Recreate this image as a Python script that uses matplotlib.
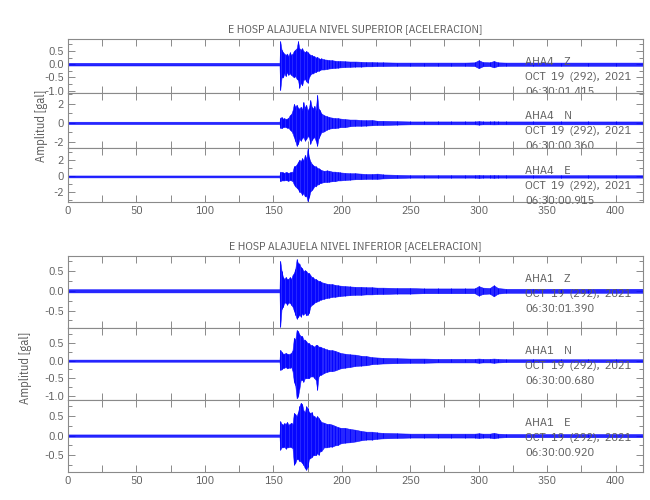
import numpy as np
import matplotlib
matplotlib.use("Agg")
import matplotlib.pyplot as plt
from matplotlib.ticker import MultipleLocator, FormatStrFormatter

plt.rcParams['font.family'] = ['IBM Plex Sans Condensed', 'DejaVu Sans']
plt.rcParams['axes.unicode_minus'] = False

# ---------------- data ----------------
TIME = [0, 154.5, 155, 156, 157, 158, 159, 160, 161, 162, 163, 164, 165, 166, 167, 168, 169,
        170, 171, 172, 173, 174, 175, 176, 177, 178, 179, 180, 181, 182, 183, 184, 185,
        187, 189, 191, 193, 195, 197, 199, 202, 206, 210, 214, 218, 222, 226, 230,
        240, 250, 260, 270, 280, 290, 297, 300, 303, 308, 311, 314, 320, 340, 360, 380, 400, 420]

# Upper group (AHA4, nivel superior)
sup_z_up = [0.05, 0.05, 0.87, 0.55, 0.45, 0.40, 0.35, 0.40, 0.30, 0.45, 0.35, 0.40, 0.50, 0.55, 0.60, 0.87, 0.60,
            0.55, 0.60, 0.50, 0.45, 0.50, 0.45, 0.40, 0.35, 0.35, 0.30, 0.30, 0.25, 0.28, 0.22, 0.20, 0.22,
            0.18, 0.17, 0.15, 0.15, 0.13, 0.12, 0.12, 0.11, 0.10, 0.10, 0.09, 0.08, 0.08, 0.07, 0.07,
            0.06, 0.06, 0.06, 0.06, 0.06, 0.06, 0.07, 0.15, 0.08, 0.07, 0.12, 0.07, 0.06, 0.06, 0.06, 0.06, 0.06, 0.06]
sup_z_lo = [-0.05, -0.05, -0.98, -0.50, -0.50, -0.35, -0.45, -0.30, -0.40, -0.35, -0.40, -0.45, -0.50, -0.45, -0.55, -0.60, -0.89,
            -0.70, -0.80, -0.60, -0.55, -0.65, -0.70, -0.50, -0.40, -0.35, -0.35, -0.30, -0.30, -0.25, -0.25, -0.22, -0.20,
            -0.20, -0.18, -0.16, -0.15, -0.14, -0.13, -0.12, -0.11, -0.10, -0.09, -0.09, -0.08, -0.08, -0.07, -0.07,
            -0.06, -0.06, -0.06, -0.06, -0.06, -0.06, -0.07, -0.15, -0.08, -0.07, -0.12, -0.07, -0.06, -0.06, -0.06, -0.06, -0.06, -0.06]

sup_n_up = [0.12, 0.12, 0.55, 0.60, 0.45, 0.50, 0.40, 0.45, 0.55, 0.80, 0.90, 1.30, 2.00, 1.70, 1.90, 1.60, 1.50,
            1.70, 1.40, 2.20, 1.60, 1.90, 1.30, 1.60, 2.40, 1.70, 1.50, 1.80, 1.40, 2.95, 1.50, 1.30, 1.00,
            0.80, 0.70, 0.60, 0.55, 0.50, 0.50, 0.45, 0.40, 0.35, 0.35, 0.30, 0.28, 0.30, 0.22, 0.22,
            0.18, 0.15, 0.15, 0.15, 0.15, 0.15, 0.15, 0.18, 0.15, 0.15, 0.16, 0.15, 0.15, 0.15, 0.15, 0.15, 0.15, 0.15]
sup_n_lo = [-0.12, -0.12, -0.50, -0.55, -0.45, -0.40, -0.45, -0.50, -0.50, -0.70, -0.80, -1.10, -1.50, -1.90, -2.40, -2.20, -1.70,
            -1.85, -1.60, -1.50, -1.85, -1.70, -1.40, -1.50, -2.20, -1.80, -1.60, -1.50, -1.90, -2.40, -1.60, -1.30, -1.00,
            -0.90, -0.70, -0.60, -0.55, -0.55, -0.50, -0.45, -0.45, -0.35, -0.30, -0.30, -0.28, -0.25, -0.22, -0.22,
            -0.18, -0.15, -0.15, -0.15, -0.15, -0.15, -0.15, -0.18, -0.15, -0.15, -0.16, -0.15, -0.15, -0.15, -0.15, -0.15, -0.15, -0.15]

sup_e_up = [0.12, 0.12, 0.60, 0.55, 0.50, 0.45, 0.55, 0.50, 0.45, 0.50, 0.55, 0.60, 1.25, 1.30, 1.50, 1.80, 2.10,
            1.90, 2.30, 2.00, 2.70, 2.20, 3.50, 2.40, 1.90, 1.60, 1.40, 1.30, 1.25, 1.10, 1.00, 0.90, 0.80,
            0.70, 0.75, 0.70, 0.60, 0.60, 0.55, 0.50, 0.45, 0.40, 0.40, 0.35, 0.30, 0.30, 0.35, 0.25,
            0.20, 0.15, 0.15, 0.15, 0.15, 0.15, 0.15, 0.18, 0.15, 0.15, 0.17, 0.15, 0.15, 0.15, 0.15, 0.15, 0.15, 0.15]
sup_e_lo = [-0.12, -0.12, -0.60, -0.50, -0.50, -0.50, -0.45, -0.50, -0.55, -0.45, -0.50, -0.60, -1.00, -1.25, -1.40, -1.60, -1.90,
            -2.00, -2.30, -2.10, -2.50, -2.40, -3.10, -2.60, -1.90, -1.70, -1.50, -1.20, -1.25, -1.00, -1.00, -0.80, -0.80,
            -0.70, -0.70, -0.65, -0.60, -0.60, -0.50, -0.50, -0.45, -0.40, -0.35, -0.35, -0.30, -0.30, -0.30, -0.25,
            -0.20, -0.15, -0.15, -0.15, -0.15, -0.15, -0.15, -0.18, -0.15, -0.15, -0.17, -0.15, -0.15, -0.15, -0.15, -0.15, -0.15, -0.15]

# Lower group (AHA1, nivel inferior)
inf_z_up = [0.04, 0.04, 0.76, 0.50, 0.35, 0.30, 0.35, 0.30, 0.30, 0.35, 0.30, 0.40, 0.45, 0.55, 0.80, 0.70, 0.69,
            0.60, 0.57, 0.50, 0.52, 0.50, 0.45, 0.45, 0.40, 0.35, 0.34, 0.30, 0.30, 0.27, 0.25, 0.25, 0.22,
            0.20, 0.18, 0.17, 0.17, 0.15, 0.14, 0.13, 0.12, 0.11, 0.10, 0.10, 0.09, 0.09, 0.08, 0.08,
            0.07, 0.07, 0.06, 0.06, 0.06, 0.06, 0.06, 0.12, 0.08, 0.07, 0.14, 0.07, 0.05, 0.05, 0.05, 0.05, 0.05, 0.05]
inf_z_lo = [-0.04, -0.04, -0.91, -0.45, -0.40, -0.30, -0.30, -0.35, -0.30, -0.30, -0.35, -0.40, -0.50, -0.60, -0.70, -0.66, -0.60,
            -0.65, -0.57, -0.60, -0.55, -0.62, -0.60, -0.55, -0.40, -0.35, -0.34, -0.30, -0.28, -0.27, -0.25, -0.22, -0.22,
            -0.20, -0.18, -0.17, -0.15, -0.15, -0.14, -0.13, -0.12, -0.11, -0.10, -0.10, -0.09, -0.09, -0.08, -0.08,
            -0.07, -0.07, -0.06, -0.06, -0.06, -0.06, -0.06, -0.12, -0.08, -0.07, -0.14, -0.07, -0.05, -0.05, -0.05, -0.05, -0.05, -0.05]

inf_n_up = [0.03, 0.03, 0.31, 0.25, 0.20, 0.20, 0.22, 0.20, 0.18, 0.20, 0.22, 0.30, 0.65, 0.60, 0.87, 0.84, 0.75,
            0.70, 0.70, 0.60, 0.60, 0.55, 0.50, 0.50, 0.45, 0.45, 0.42, 0.40, 0.45, 0.45, 0.40, 0.40, 0.38,
            0.35, 0.32, 0.30, 0.30, 0.28, 0.25, 0.22, 0.20, 0.18, 0.17, 0.14, 0.13, 0.10, 0.09, 0.08,
            0.07, 0.06, 0.06, 0.05, 0.05, 0.05, 0.05, 0.06, 0.05, 0.05, 0.06, 0.05, 0.04, 0.04, 0.04, 0.04, 0.04, 0.04]
inf_n_lo = [-0.03, -0.03, -0.26, -0.25, -0.20, -0.20, -0.18, -0.22, -0.20, -0.20, -0.18, -0.30, -0.60, -0.70, -1.07, -1.02, -0.80,
            -0.55, -0.54, -0.60, -0.50, -0.50, -0.50, -0.50, -0.45, -0.45, -0.45, -0.50, -0.55, -0.83, -0.45, -0.40, -0.40,
            -0.35, -0.32, -0.30, -0.30, -0.28, -0.25, -0.22, -0.20, -0.18, -0.15, -0.14, -0.13, -0.10, -0.09, -0.08,
            -0.07, -0.06, -0.06, -0.05, -0.05, -0.05, -0.05, -0.06, -0.05, -0.05, -0.06, -0.05, -0.04, -0.04, -0.04, -0.04, -0.04, -0.04]

inf_e_up = [0.03, 0.03, 0.37, 0.30, 0.28, 0.32, 0.30, 0.35, 0.28, 0.30, 0.33, 0.30, 0.58, 0.55, 0.50, 0.60, 0.75,
            0.84, 0.80, 0.65, 0.60, 0.75, 0.70, 0.60, 0.58, 0.60, 0.50, 0.50, 0.45, 0.50, 0.45, 0.40, 0.35,
            0.33, 0.30, 0.30, 0.28, 0.25, 0.22, 0.20, 0.20, 0.17, 0.15, 0.12, 0.10, 0.10, 0.08, 0.07,
            0.06, 0.05, 0.05, 0.05, 0.05, 0.05, 0.05, 0.06, 0.05, 0.05, 0.07, 0.05, 0.04, 0.04, 0.04, 0.04, 0.04, 0.04]
inf_e_lo = [-0.03, -0.03, -0.36, -0.30, -0.30, -0.28, -0.33, -0.30, -0.30, -0.28, -0.30, -0.32, -0.74, -0.70, -0.60, -0.60, -0.65,
            -0.66, -0.70, -0.75, -0.83, -0.87, -0.80, -0.60, -0.57, -0.55, -0.50, -0.50, -0.50, -0.45, -0.49, -0.40, -0.40,
            -0.30, -0.30, -0.28, -0.28, -0.25, -0.24, -0.20, -0.18, -0.17, -0.15, -0.12, -0.10, -0.10, -0.08, -0.07,
            -0.06, -0.05, -0.05, -0.05, -0.05, -0.05, -0.05, -0.06, -0.05, -0.05, -0.07, -0.05, -0.04, -0.04, -0.04, -0.04, -0.04, -0.04]

TITLES = ["E HOSP ALAJUELA NIVEL SUPERIOR [ACELERACION]",
          "E HOSP ALAJUELA NIVEL INFERIOR [ACELERACION]"]
STATIONS = [["AHA4    Z", "AHA4    N", "AHA4    E"], ["AHA1    Z", "AHA1    N", "AHA1    E"]]
DATE = "OCT  19  (292),  2021"
START_TIMES = [["06:30:01.415", "06:30:00.360", "06:30:00.915"],
               ["06:30:01.390", "06:30:00.680", "06:30:00.920"]]
TRACES = [[(sup_z_up, sup_z_lo), (sup_n_up, sup_n_lo), (sup_e_up, sup_e_lo)],
          [(inf_z_up, inf_z_lo), (inf_n_up, inf_n_lo), (inf_e_up, inf_e_lo)]]
YLIMS = [[(-1.1, 0.95), (-2.6, 3.1), (-3.2, 3.6)],
         [(-0.94, 0.88), (-1.12, 0.93), (-0.93, 0.91)]]
YMAJOR = [[0.5, 2, 2], [0.5, 0.5, 0.5]]
YMINOR = [[0.25, 1, 1], [0.25, 0.25, 0.25]]
YFMT = [["%.1f", "%d", "%d"], ["%.1f", "%.1f", "%.1f"]]
XMAX = 420

# ---------------- figure ----------------
GRAY = "#8a8a8a"
TXT = "#5c5c5c"
BLUE = "#0000ff"

fig = plt.figure(figsize=(6.5, 5.0), dpi=100)
W, H = 650.0, 500.0
left, right = 68 / W, 643 / W
groups = [(39, 202), (256, 472)]
ylabel_x = [-0.035, -0.062]
ylabel_y = [0.40, 0.45]

t = np.array(TIME, dtype=float)
for g, (top_px, bot_px) in enumerate(groups):
    ph = (bot_px - top_px) / 3.0
    axes = []
    for k in range(3):
        y0 = 1 - (top_px + (k + 1) * ph) / H
        ax = fig.add_axes([left, y0, right - left, ph / H])
        axes.append(ax)
        up, lo = TRACES[g][k]
        up = np.array(up); lo = np.array(lo)
        ax.fill_between(t, lo, up, color=BLUE, alpha=0.85, lw=0.4, edgecolor=BLUE, zorder=2)
        ax.vlines(t[2:-1], lo[2:-1], up[2:-1], color=BLUE, lw=0.6, zorder=3)
        ax.set_xlim(0, XMAX)
        ax.set_ylim(*YLIMS[g][k])
        ax.xaxis.set_major_locator(MultipleLocator(50))
        ax.xaxis.set_minor_locator(MultipleLocator(25))
        ax.yaxis.set_major_locator(MultipleLocator(YMAJOR[g][k]))
        ax.yaxis.set_minor_locator(MultipleLocator(YMINOR[g][k]))
        ax.yaxis.set_major_formatter(FormatStrFormatter(YFMT[g][k]))
        ax.tick_params(which='both', direction='in', top=True, right=True,
                       color=GRAY, labelcolor=TXT, labelsize=8.5, width=0.7)
        ax.tick_params(which='major', length=5, pad=3)
        ax.tick_params(which='minor', length=3)
        ax.tick_params(axis='x', which='minor', length=5)
        if k < 2:
            ax.tick_params(axis='x', labelbottom=False)
        for s in ax.spines.values():
            s.set_color(GRAY)
            s.set_linewidth(0.8)
        lines = [STATIONS[g][k], DATE, START_TIMES[g][k]]
        for j, txt in enumerate(lines):
            ax.annotate(txt, xy=(334, 1), xycoords=('data', 'axes fraction'),
                        xytext=(0, -26 - 15 * j), textcoords='offset pixels',
                        ha='left', va='baseline', fontsize=8.8, color=TXT,
                        annotation_clip=False, zorder=5)
    axes[0].set_title(TITLES[g], fontsize=8.5, color=TXT, pad=5)
    axes[1].set_ylabel("Amplitud [gal]", fontsize=9, color=TXT)
    axes[1].yaxis.set_label_coords(ylabel_x[g], ylabel_y[g])

fig.savefig("out.png", dpi=100)
